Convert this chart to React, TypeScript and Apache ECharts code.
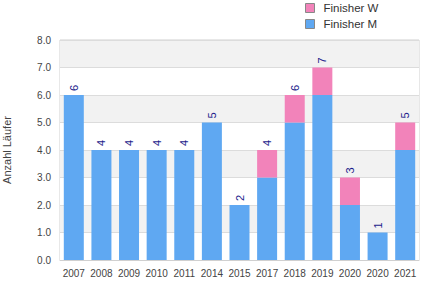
import React, { useEffect, useRef } from "react";
import * as echarts from "echarts";

const categories = ["2007", "2008", "2009", "2010", "2011", "2014", "2015", "2017", "2018", "2019", "2020", "2020", "2021"];
const finisherM = [6, 4, 4, 4, 4, 5, 2, 3, 5, 6, 2, 1, 4];
const finisherW = [0, 0, 0, 0, 0, 0, 0, 1, 1, 1, 1, 0, 1];
const yTicks = [0, 1, 2, 3, 4, 5, 6, 7, 8];

const FONT = "Liberation Sans";

export default function App() {
  const ref = useRef<HTMLDivElement>(null);
  useEffect(() => {
    document.body.style.margin = "0";
    if (!ref.current) return;
    const chart = echarts.init(ref.current, undefined, { renderer: "svg" });
    const totals = finisherM.map((m, i) => m + finisherW[i]);
    chart.setOption({
      animation: false,
      textStyle: { fontFamily: FONT },
      legend: {
        orient: "vertical",
        left: 305,
        top: 2,
        padding: 0,
        itemWidth: 9,
        itemHeight: 9,
        itemGap: 4,
        icon: "rect",
        data: ["Finisher W", "Finisher M"],
        textStyle: { fontFamily: FONT, fontSize: 11.5, color: "#333", padding: [0, 0, 0, 4] },
        itemStyle: { borderColor: "#888", borderWidth: 1 },
      },
      grid: {
        left: 60,
        right: 10,
        top: 40,
        bottom: 40,
        outerBoundsMode: "none",
        containLabel: false,
        show: true,
        borderColor: "#d0d0d0",
        borderWidth: 1,
        backgroundColor: "transparent",
      },
      xAxis: {
        type: "category",
        data: categories,
        axisLine: { show: true, lineStyle: { color: "#d0d0d0" } },
        axisTick: { show: false },
        axisLabel: { fontFamily: FONT, fontSize: 10, color: "#444", margin: 8, interval: 0 },
      },
      yAxis: {
        type: "value",
        min: yTicks[0],
        max: yTicks[yTicks.length - 1],
        interval: 1,
        name: "Anzahl Läufer",
        nameLocation: "middle",
        nameGap: 48,
        nameMoveOverlap: false,
        nameTextStyle: { fontFamily: FONT, fontSize: 11, color: "#444" },
        axisLine: { show: false },
        axisTick: { show: false },
        axisLabel: {
          fontFamily: FONT,
          fontSize: 10,
          color: "#444",
          margin: 9,
          formatter: (v: number) => v.toFixed(1),
        },
        splitLine: { show: true, lineStyle: { color: "#dcdcdc" } },
        splitArea: { show: true, areaStyle: { color: ["#ffffff", "#f2f2f2"] } },
      },
      series: [
        {
          name: "Finisher M",
          type: "bar",
          stack: "total",
          data: finisherM,
          barWidth: 20,
          itemStyle: { color: "#5fa8f2" },
        },
        {
          name: "Finisher W",
          type: "bar",
          stack: "total",
          data: finisherW,
          barWidth: 20,
          itemStyle: { color: "#f283ba" },
          label: {
            show: true,
            position: "top",
            distance: 4,
            rotate: 90,
            align: "left",
            verticalAlign: "middle",
            fontFamily: FONT,
            fontSize: 11,
            color: "#1c1c8c",
            formatter: (p: any) => String(totals[p.dataIndex]),
          },
        },
      ],
    });
    return () => chart.dispose();
  }, []);
  return <div ref={ref} style={{ width: 429, height: 300 }} />;
}
